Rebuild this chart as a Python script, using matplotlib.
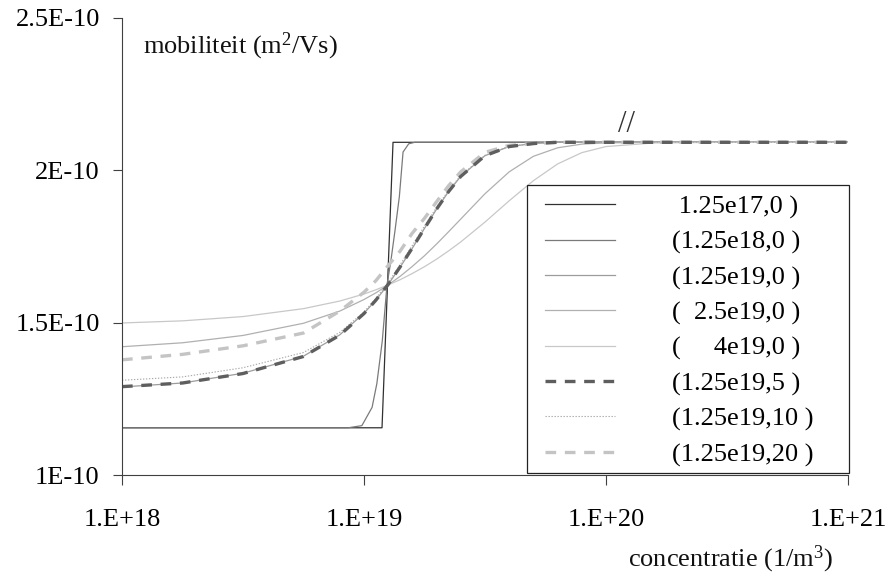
import matplotlib
matplotlib.use('Agg')
import matplotlib.pyplot as plt
from matplotlib.patches import Rectangle
from matplotlib.ticker import NullLocator

# ---------------- data (mobility in units of 1e-10 m^2/Vs) ----------------
conc_step = [1.0e18, 1.187e19, 1.318e19, 1.0e21]
mob_1_25e17 = [1.155, 1.155, 2.092, 2.092]

conc_b = [1.0e18, 8.6e18, 9.8e18, 1.08e19, 1.13e19, 1.19e19, 1.245e19, 1.29e19,
          1.345e19, 1.40e19, 1.45e19, 1.53e19, 1.62e19, 1.0e21]
mob_1_25e18 = [1.155, 1.155, 1.162, 1.222, 1.300, 1.440, 1.625, 1.700,
               1.806, 1.914, 2.060, 2.087, 2.092, 2.092]

conc_grid = [1.0e18, 1.78e18, 3.16e18, 5.62e18, 7.94e18, 1.0e19, 1.12e19, 1.26e19,
             1.41e19, 1.58e19, 1.78e19, 2.0e19, 2.24e19, 2.51e19, 3.16e19, 3.98e19,
             5.01e19, 6.31e19, 7.94e19, 1.0e20, 1.58e20, 3.16e20, 1.0e21]
mob_1_25e19 = [1.289, 1.302, 1.334, 1.390, 1.460, 1.531, 1.574, 1.626, 1.682, 1.743,
               1.810, 1.874, 1.931, 1.980, 2.048, 2.078, 2.088, 2.092, 2.092, 2.092,
               2.092, 2.092, 2.092]
mob_2_5e19 = [1.421, 1.434, 1.458, 1.498, 1.538, 1.576, 1.598, 1.624, 1.652, 1.684,
              1.720, 1.759, 1.799, 1.840, 1.923, 1.995, 2.046, 2.074, 2.086, 2.090,
              2.092, 2.092, 2.092]
mob_4e19 = [1.499, 1.506, 1.520, 1.546, 1.571, 1.594, 1.608, 1.624, 1.641, 1.661,
            1.684, 1.709, 1.736, 1.765, 1.830, 1.900, 1.966, 2.021, 2.058, 2.078,
            2.090, 2.092, 2.092]
mob_1_25e19_5 = [1.290, 1.302, 1.333, 1.389, 1.459, 1.530, 1.574, 1.626, 1.683, 1.744,
                 1.810, 1.874, 1.931, 1.980, 2.048, 2.078, 2.088, 2.092, 2.092, 2.092,
                 2.092, 2.092, 2.092]
mob_1_25e19_10 = [1.311, 1.322, 1.352, 1.402, 1.468, 1.535, 1.580, 1.632, 1.690, 1.752,
                  1.818, 1.880, 1.935, 1.983, 2.049, 2.079, 2.088, 2.092, 2.092, 2.092,
                  2.092, 2.092, 2.092]
mob_1_25e19_20 = [1.378, 1.396, 1.424, 1.466, 1.538, 1.600, 1.638, 1.688, 1.735, 1.793,
                  1.843, 1.898, 1.950, 1.995, 2.059, 2.082, 2.088, 2.092, 2.092, 2.092,
                  2.092, 2.092, 2.092]

legend_labels = [' 1.25e17,0 )', '(1.25e18,0 )', '(1.25e19,0 )', '(  2.5e19,0 )',
                 '(     4e19,0 )', '(1.25e19,5 )', '(1.25e19,10 )', '(1.25e19,20 )']

x_ticks = [1e18, 1e19, 1e20, 1e21]
x_tick_labels = ['1.E+18', '1.E+19', '1.E+20', '1.E+21']
y_ticks = [1.0e-10, 1.5e-10, 2.0e-10, 2.5e-10]
y_tick_labels = ['1E-10', '1.5E-10', '2E-10', '2.5E-10']

# ---------------- figure ----------------
plt.rcParams['font.family'] = ['Liberation Serif', 'DejaVu Serif']
plt.rcParams['mathtext.fontset'] = 'custom'
plt.rcParams['mathtext.rm'] = 'Liberation Serif'
plt.rcParams['mathtext.it'] = 'Liberation Serif'
W, H = 892, 577
FS = 19
fig = plt.figure(figsize=(W / 100, H / 100), dpi=100)
ax = fig.add_axes([122 / W, 1 - 475 / H, (848 - 122) / W, (475 - 18) / H])
ax.set_xscale('log')
ax.set_xlim(1e18, 1e21)
ax.set_ylim(1.0e-10, 2.5e-10)

def sc(v):
    return [a * 1e-10 for a in v]

lA, = ax.plot(conc_step, sc(mob_1_25e17), color='#303030', lw=0.9)
lB, = ax.plot(conc_b, sc(mob_1_25e18), color='#7a7a7a', lw=0.9)
lC, = ax.plot(conc_grid, sc(mob_1_25e19), color='#9c9c9c', lw=0.9)
lD, = ax.plot(conc_grid, sc(mob_2_5e19), color='#b0b0b0', lw=0.9)
lE, = ax.plot(conc_grid, sc(mob_4e19), color='#c8c8c8', lw=0.9)
l10, = ax.plot(conc_grid, sc(mob_1_25e19_10), color='#a8a8a8', lw=0.8,
               linestyle=(0, (1.2, 1.5)))
l20, = ax.plot(conc_grid, sc(mob_1_25e19_20), color='#c4c4c4', lw=2.4,
               linestyle=(0, (3.2, 2.6)))
l5, = ax.plot(conc_grid, sc(mob_1_25e19_5), color='#5e5e5e', lw=2.4,
              linestyle=(0, (3.2, 2.6)))

ax.set_xticks(x_ticks, x_tick_labels)
ax.set_yticks(y_ticks, y_tick_labels)
ax.xaxis.set_minor_locator(NullLocator())
ax.yaxis.set_minor_locator(NullLocator())
ax.tick_params(axis='y', direction='out', length=6.5, width=0.8, color='#404040',
               pad=9.5, labelsize=FS)
ax.tick_params(axis='x', direction='out', length=7.2, width=0.8, color='#404040',
               pad=17, labelsize=FS)
for s in ['top', 'right']:
    ax.spines[s].set_visible(False)
for s in ['left', 'bottom']:
    ax.spines[s].set_color('#404040')
    ax.spines[s].set_linewidth(0.8)

# legend box
box = Rectangle((527 / W, 1 - 473 / H), (849 - 527) / W, (473 - 185) / H,
                transform=fig.transFigure, facecolor='white', edgecolor='#222222',
                lw=0.9, zorder=4, clip_on=False)
ax.add_patch(box)
fspx = FS * 100 / 72
leg = ax.legend([lA, lB, lC, lD, lE, l5, l10, l20], legend_labels,
                loc='upper left', bbox_to_anchor=(545 / W, 1 - 195 / H),
                bbox_transform=fig.transFigure, frameon=False, borderpad=0,
                borderaxespad=0, handlelength=70 / fspx,
                handletextpad=(672 - 615) / fspx, labelspacing=0.435, fontsize=FS)
leg.set_zorder(5)

fig.text(143 / W, 1 - 53 / H, r'mobiliteit (m$^{2}$/Vs)', fontsize=FS, ha='left',
         va='baseline', color='#111111')
fig.text(628 / W, 1 - 566 / H, r'concentratie (1/m$^{3}$)', fontsize=FS, ha='left',
         va='baseline', color='#111111')
fig.text(626 / W, 1 - 125 / H, '//', fontsize=22, ha='center', va='center',
         color='#333333')

fig.savefig('out.png', dpi=100)
